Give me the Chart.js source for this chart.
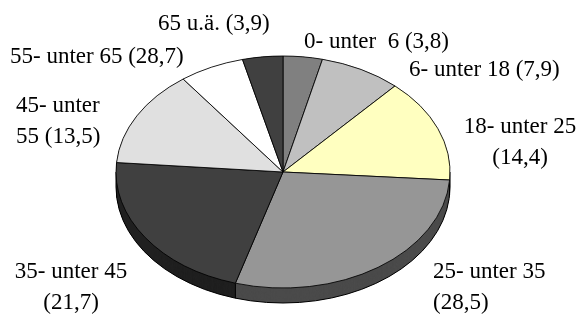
<!DOCTYPE html>
<html lang="de">
<head>
    <meta charset="UTF-8">
    <title>Altersgruppen</title>
    <script src="https://cdn.jsdelivr.net/npm/chart.js"></script>
    <style>
        body {
            margin: 0;
            background: #ffffff;
            font-family: "Liberation Serif", "Times New Roman", serif;
        }
        #wrap {
            width: 581px;
            height: 315px;
        }
        #fontprobe {
            position: absolute;
            left: -999px;
            top: 0;
            font-size: 23px;
        }
    </style>
</head>
<body>
    <span id="fontprobe">65 u.ä.</span>
    <div id="wrap">
        <canvas id="pieChart" width="581" height="315"></canvas>
    </div>
    <script>
        // data
        const categories = ['0- unter  6', '6- unter 18', '18- unter 25', '25- unter 35', '35- unter 45', '45- unter 55', '55- unter 65', '65 u.ä.'];
        const shares = [3.8, 7.9, 14.4, 28.5, 21.7, 13.5, 6.3, 3.9];
        const printedValues = ['3,8', '7,9', '14,4', '28,5', '21,7', '13,5', '28,7', '3,9'];

        // look
        const topColors = ['#808080', '#c0c0c0', '#ffffc0', '#969696', '#404040', '#e0e0e0', '#ffffff', '#404040'];
        const sideColors = ['#404040', '#606060', '#808060', '#4b4b4b', '#202020', '#707070', '#808080', '#202020'];
        const tilt = 116 / 167;
        const depth = 15;
        const labelFont = '23px "Liberation Serif", "Times New Roman", serif';

        // label placement: [x, y, align, words on first line (0 = one line)]
        const labelSpots = [
            [304, 42, 'left', 0],
            [409, 70, 'left', 0],
            [520, 127, 'center', 3],
            [433, 272, 'left', 3],
            [71, 272, 'center', 3],
            [16, 106, 'left', 2],
            [10, 57, 'left', 0],
            [158, 24, 'left', 0]
        ];
        const lineGap = 31;

        const pie3d = {
            id: 'pie3d',
            beforeDatasetsDraw(chart) {
                const ctx = chart.ctx;
                const arcs = chart.getDatasetMeta(0).data;
                const cx = arcs[0].x, cy = arcs[0].y, r = arcs[0].outerRadius;
                const d = depth / tilt;
                ctx.save();
                ctx.translate(cx, cy);
                ctx.scale(1, tilt);
                ctx.translate(-cx, -cy);

                // side wall
                for (let o = d; o > 0; o -= 0.5) {
                    arcs.forEach((a, i) => {
                        ctx.fillStyle = sideColors[i];
                        ctx.beginPath();
                        ctx.moveTo(cx, cy + o);
                        ctx.arc(cx, cy + o, r, a.startAngle, a.endAngle);
                        ctx.closePath();
                        ctx.fill();
                    });
                }

                // outline of the wall, stroked without the squeeze
                ctx.beginPath();
                ctx.arc(cx, cy + d, r, 0, Math.PI);
                ctx.save();
                ctx.setTransform(1, 0, 0, 1, 0, 0);
                ctx.lineWidth = 1;
                ctx.strokeStyle = '#000000';
                ctx.stroke();
                ctx.beginPath();
                const edges = arcs.map(a => a.startAngle).concat([0, Math.PI]);
                edges.forEach(ang => {
                    const t = ((ang % (2 * Math.PI)) + 2 * Math.PI) % (2 * Math.PI);
                    if (t > Math.PI) return;
                    const ex = cx + r * Math.cos(t);
                    const ey = cy + r * Math.sin(t) * tilt;
                    ctx.moveTo(ex, ey);
                    ctx.lineTo(ex, ey + depth);
                });
                ctx.stroke();
                ctx.restore();
            },
            afterDatasetsDraw(chart) {
                chart.ctx.restore();
            },
            afterDraw(chart) {
                const ctx = chart.ctx;
                ctx.save();
                ctx.fillStyle = '#000000';
                ctx.font = labelFont;
                ctx.textBaseline = 'middle';
                categories.forEach((c, i) => {
                    const [x, y, align, cut] = labelSpots[i];
                    const words = (c + ' (' + printedValues[i] + ')').split(' ');
                    const lines = cut ? [words.slice(0, cut).join(' '), words.slice(cut).join(' ')] : [words.join(' ')];
                    ctx.textAlign = align;
                    lines.forEach((ln, k) => ctx.fillText(ln, x, y + k * lineGap));
                });
                ctx.restore();
            }
        };

        const ctx = document.getElementById('pieChart').getContext('2d');
        const pieChart = new Chart(ctx, {
            type: 'pie',
            data: {
                labels: categories,
                datasets: [{
                    data: shares,
                    backgroundColor: topColors,
                    borderColor: '#000000',
                    borderWidth: 1,
                    radius: 167,
                    clip: false
                }]
            },
            options: {
                responsive: false,
                animation: false,
                layout: {
                    padding: { left: 0, right: 15, top: 29, bottom: 0 }
                },
                plugins: {
                    legend: { display: false },
                    tooltip: { enabled: false }
                }
            },
            plugins: [pie3d]
        });

        if (document.fonts) {
            document.fonts.load(labelFont).then(() => pieChart.draw());
        }
    </script>
</body>
</html>
